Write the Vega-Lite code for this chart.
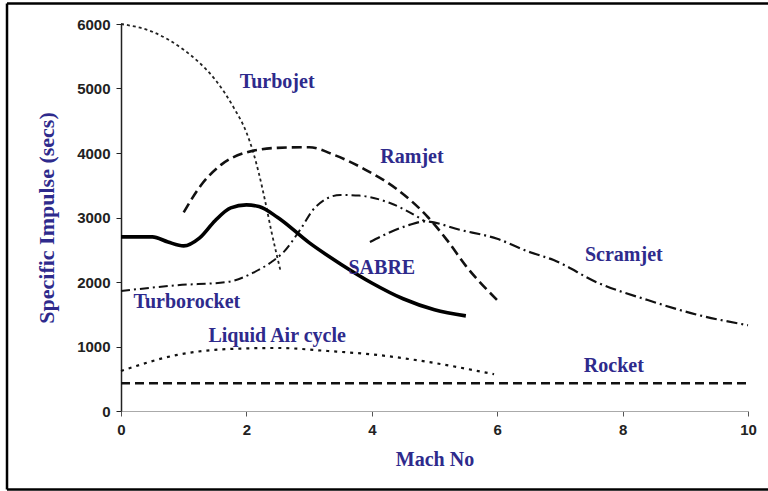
{
  "$schema": "https://vega.github.io/schema/vega-lite/v6.json",
  "autosize": {"type": "none"},
  "padding": {"left": 121, "top": 24, "right": 20, "bottom": 80},
  "width": 627,
  "height": 387,
  "background": "white",
  "config": {
    "view": {"stroke": null},
    "axisX": {
      "format": "d", "grid": false, "labelFlush": false,
      "domainColor": "#aaaaaa", "domainWidth": 1, "tickColor": "#555555", "tickSize": 5,
      "labelFont": "Liberation Sans", "labelFontWeight": "bold", "labelFontSize": 15, "labelColor": "#222222",
      "labelPadding": 6, "titleFont": "Liberation Serif", "titleFontWeight": "bold", "titleFontSize": 20,
      "titleColor": "#2e2a8c", "titlePadding": 12
    },
    "axisY": {
      "format": "d", "grid": false, "labelFlush": false,
      "domainColor": "#222222", "domainWidth": 1.5, "tickColor": "#222222", "tickSize": 5,
      "labelFont": "Liberation Sans", "labelFontWeight": "bold", "labelFontSize": 15, "labelColor": "#222222",
      "labelPadding": 6, "titleFont": "Liberation Serif", "titleFontWeight": "bold", "titleFontSize": 22,
      "titleColor": "#2e2a8c", "titlePadding": 18
    }
  },
  "datasets": {
    "curves": [
      {"series": "SABRE", "M": 0, "isp": 2700},
      {"series": "SABRE", "M": 0.5, "isp": 2700},
      {"series": "SABRE", "M": 0.75, "isp": 2620},
      {"series": "SABRE", "M": 1.0, "isp": 2560},
      {"series": "SABRE", "M": 1.25, "isp": 2680},
      {"series": "SABRE", "M": 1.5, "isp": 2950},
      {"series": "SABRE", "M": 1.75, "isp": 3150},
      {"series": "SABRE", "M": 2.0, "isp": 3195},
      {"series": "SABRE", "M": 2.2, "isp": 3170},
      {"series": "SABRE", "M": 2.5, "isp": 3000},
      {"series": "SABRE", "M": 3.0, "isp": 2610},
      {"series": "SABRE", "M": 3.5, "isp": 2280},
      {"series": "SABRE", "M": 4.0, "isp": 1985},
      {"series": "SABRE", "M": 4.5, "isp": 1740},
      {"series": "SABRE", "M": 5.0, "isp": 1570},
      {"series": "SABRE", "M": 5.5, "isp": 1475},
      {"series": "Turbojet", "M": 0, "isp": 6000},
      {"series": "Turbojet", "M": 0.5, "isp": 5880},
      {"series": "Turbojet", "M": 1.0, "isp": 5600},
      {"series": "Turbojet", "M": 1.25, "isp": 5400},
      {"series": "Turbojet", "M": 1.5, "isp": 5140},
      {"series": "Turbojet", "M": 1.8, "isp": 4700},
      {"series": "Turbojet", "M": 2.0, "isp": 4320},
      {"series": "Turbojet", "M": 2.1, "isp": 4040},
      {"series": "Turbojet", "M": 2.2, "isp": 3680},
      {"series": "Turbojet", "M": 2.3, "isp": 3250},
      {"series": "Turbojet", "M": 2.4, "isp": 2780},
      {"series": "Turbojet", "M": 2.55, "isp": 2150},
      {"series": "Ramjet", "M": 1.0, "isp": 3080},
      {"series": "Ramjet", "M": 1.3, "isp": 3530},
      {"series": "Ramjet", "M": 1.6, "isp": 3820},
      {"series": "Ramjet", "M": 2.0, "isp": 4010},
      {"series": "Ramjet", "M": 2.5, "isp": 4080},
      {"series": "Ramjet", "M": 3.0, "isp": 4090},
      {"series": "Ramjet", "M": 3.4, "isp": 3970},
      {"series": "Ramjet", "M": 3.9, "isp": 3740},
      {"series": "Ramjet", "M": 4.4, "isp": 3440},
      {"series": "Ramjet", "M": 4.9, "isp": 3000},
      {"series": "Ramjet", "M": 5.2, "isp": 2650},
      {"series": "Ramjet", "M": 5.5, "isp": 2250},
      {"series": "Ramjet", "M": 6.0, "isp": 1720},
      {"series": "Turborocket", "M": 0, "isp": 1860},
      {"series": "Turborocket", "M": 0.9, "isp": 1950},
      {"series": "Turborocket", "M": 1.7, "isp": 2000},
      {"series": "Turborocket", "M": 2.1, "isp": 2140},
      {"series": "Turborocket", "M": 2.4, "isp": 2310},
      {"series": "Turborocket", "M": 2.6, "isp": 2470},
      {"series": "Turborocket", "M": 2.85, "isp": 2800},
      {"series": "Turborocket", "M": 3.1, "isp": 3160},
      {"series": "Turborocket", "M": 3.5, "isp": 3350},
      {"series": "Turborocket", "M": 3.8, "isp": 3340},
      {"series": "Turborocket", "M": 4.3, "isp": 3220},
      {"series": "Turborocket", "M": 4.85, "isp": 2940},
      {"series": "Scramjet", "M": 3.97, "isp": 2620},
      {"series": "Scramjet", "M": 4.3, "isp": 2775},
      {"series": "Scramjet", "M": 4.6, "isp": 2885},
      {"series": "Scramjet", "M": 4.85, "isp": 2940},
      {"series": "Scramjet", "M": 5.4, "isp": 2810},
      {"series": "Scramjet", "M": 6.0, "isp": 2670},
      {"series": "Scramjet", "M": 6.5, "isp": 2470},
      {"series": "Scramjet", "M": 6.9, "isp": 2340},
      {"series": "Scramjet", "M": 7.6, "isp": 1990},
      {"series": "Scramjet", "M": 8.4, "isp": 1720},
      {"series": "Scramjet", "M": 9.2, "isp": 1490},
      {"series": "Scramjet", "M": 10.0, "isp": 1330},
      {"series": "Liquid Air cycle", "M": 0, "isp": 620},
      {"series": "Liquid Air cycle", "M": 0.9, "isp": 870},
      {"series": "Liquid Air cycle", "M": 1.7, "isp": 960},
      {"series": "Liquid Air cycle", "M": 2.5, "isp": 977},
      {"series": "Liquid Air cycle", "M": 3.3, "isp": 930},
      {"series": "Liquid Air cycle", "M": 4.1, "isp": 868},
      {"series": "Liquid Air cycle", "M": 4.9, "isp": 760},
      {"series": "Liquid Air cycle", "M": 5.95, "isp": 570},
      {"series": "Rocket", "M": 0, "isp": 430},
      {"series": "Rocket", "M": 10.0, "isp": 430}
    ],
    "labels": [
      {"text": "Turbojet", "M": 2.49, "isp": 5100},
      {"text": "Ramjet", "M": 4.64, "isp": 3938},
      {"text": "SABRE", "M": 4.16, "isp": 2217},
      {"text": "Scramjet", "M": 8.02, "isp": 2419},
      {"text": "Turborocket", "M": 1.05, "isp": 1690},
      {"text": "Liquid Air cycle", "M": 2.49, "isp": 1163},
      {"text": "Rocket", "M": 7.86, "isp": 698}
    ]
  },
  "layer": [
    {
      "data": {"name": "curves"},
      "transform": [{"filter": "datum.series === 'Rocket'"}],
      "mark": {"type": "line", "color": "#111111", "strokeWidth": 2.5, "strokeDash": [9, 5]},
      "encoding": {
        "x": {"field": "M", "type": "quantitative", "title": "Mach No", "scale": {"domain": [0, 10], "nice": false, "zero": false}, "axis": {"values": [0, 2, 4, 6, 8, 10]}},
        "y": {"field": "isp", "type": "quantitative", "title": "Specific Impulse (secs)", "scale": {"domain": [0, 6000], "nice": false}, "axis": {"values": [0, 1000, 2000, 3000, 4000, 5000, 6000]}}
      }
    },
    {
      "data": {"values": [{"side": "top"}]},
      "mark": {"type": "rule", "color": "black", "strokeWidth": 2.5},
      "encoding": {
        "x": {"datum": -1.818, "type": "quantitative"},
        "x2": {"datum": 10.45},
        "y": {"datum": 6318, "type": "quantitative"}
      }
    },
    {
      "data": {"values": [{"side": "bottom"}]},
      "mark": {"type": "rule", "color": "black", "strokeWidth": 2.5},
      "encoding": {
        "x": {"datum": -1.818, "type": "quantitative"},
        "x2": {"datum": 10.45},
        "y": {"datum": -1217, "type": "quantitative"}
      }
    },
    {
      "data": {"values": [{"side": "left"}]},
      "mark": {"type": "rule", "color": "black", "strokeWidth": 2.5},
      "encoding": {
        "x": {"datum": -1.818, "type": "quantitative"},
        "y": {"datum": 6318, "type": "quantitative"},
        "y2": {"datum": -1217}
      }
    },
    {
      "data": {"name": "curves"},
      "transform": [{"filter": "datum.series === 'Liquid Air cycle'"}],
      "mark": {"type": "line", "color": "#111111", "strokeWidth": 2.2, "strokeDash": [3, 5], "interpolate": "monotone"},
      "encoding": {"x": {"field": "M", "type": "quantitative"}, "y": {"field": "isp", "type": "quantitative"}}
    },
    {
      "data": {"name": "curves"},
      "transform": [{"filter": "datum.series === 'Turbojet'"}],
      "mark": {"type": "line", "color": "#222222", "strokeWidth": 1.8, "strokeDash": [3, 3], "interpolate": "monotone"},
      "encoding": {"x": {"field": "M", "type": "quantitative"}, "y": {"field": "isp", "type": "quantitative"}}
    },
    {
      "data": {"name": "curves"},
      "transform": [{"filter": "datum.series === 'Ramjet'"}],
      "mark": {"type": "line", "color": "#111111", "strokeWidth": 2.6, "strokeDash": [10, 5], "interpolate": "monotone"},
      "encoding": {"x": {"field": "M", "type": "quantitative"}, "y": {"field": "isp", "type": "quantitative"}}
    },
    {
      "data": {"name": "curves"},
      "transform": [{"filter": "datum.series === 'Turborocket'"}],
      "mark": {"type": "line", "color": "#111111", "strokeWidth": 2, "strokeDash": [9, 4, 2, 4], "interpolate": "monotone"},
      "encoding": {"x": {"field": "M", "type": "quantitative"}, "y": {"field": "isp", "type": "quantitative"}}
    },
    {
      "data": {"name": "curves"},
      "transform": [{"filter": "datum.series === 'Scramjet'"}],
      "mark": {"type": "line", "color": "#111111", "strokeWidth": 2.2, "strokeDash": [11, 4, 2, 4], "interpolate": "monotone"},
      "encoding": {"x": {"field": "M", "type": "quantitative"}, "y": {"field": "isp", "type": "quantitative"}}
    },
    {
      "data": {"name": "curves"},
      "transform": [{"filter": "datum.series === 'SABRE'"}],
      "mark": {"type": "line", "color": "#000000", "strokeWidth": 3.6, "interpolate": "monotone"},
      "encoding": {"x": {"field": "M", "type": "quantitative"}, "y": {"field": "isp", "type": "quantitative"}}
    },
    {
      "data": {"name": "labels"},
      "mark": {"type": "text", "font": "Liberation Serif", "fontWeight": "bold", "fontSize": 20, "color": "#2e2a8c", "align": "center", "baseline": "middle"},
      "encoding": {
        "x": {"field": "M", "type": "quantitative"},
        "y": {"field": "isp", "type": "quantitative"},
        "text": {"field": "text", "type": "nominal"}
      }
    }
  ]
}
